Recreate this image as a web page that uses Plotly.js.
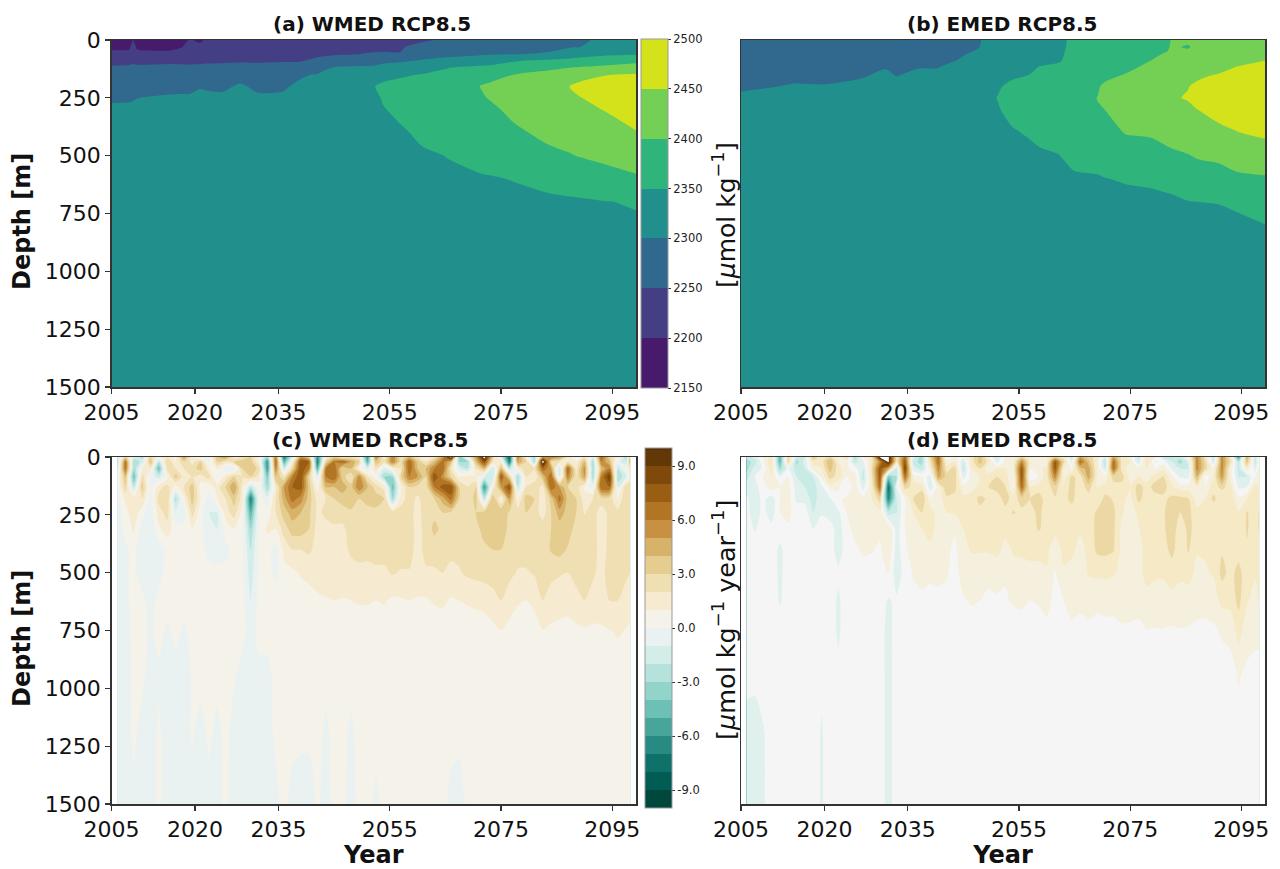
<!DOCTYPE html>
<html><head><meta charset="utf-8">
<script src="https://cdn.plot.ly/plotly-3.0.1.min.js"></script>
<style>html,body{margin:0;padding:0;background:#fff}</style></head>
<body><div id="chart" style="width:1280px;height:869px"></div>
<script>
const W = 1280, H = 869;
const panelTitles = ['(a) WMED RCP8.5','(b) EMED RCP8.5','(c) WMED RCP8.5','(d) EMED RCP8.5'];
const xTicks = [2005,2020,2035,2055,2075,2095];
const yTicks = [0,250,500,750,1000,1250,1500];
const alkTicks = [2150,2200,2250,2300,2350,2400,2450,2500];
const trendTicks = [-9,-6,-3,0,3,6,9];
const trendTickText = ['-9.0','-6.0','-3.0','0.0','3.0','6.0','9.0'];
const viridisBands = ['#481a6c','#443e85','#31688e','#21908c','#2fb47c','#74d055','#d3e21b'];
const brbgReversed = ['#003c30','#01665e','#35978f','#80cdc1','#c7eae5','#f5f5f5','#f6e8c3','#dfc27d','#bf812d','#8c510a','#543005'];

// --- alkalinity panels: columns are depth profiles at depthsAlk
const depthsAlk = [0,30,60,90,120,150,200,250,300,400,500,600,700,800,1500];
const yearsA = [2005,2008.2,2008.85,2009.5,2010.1,2015.5,2017.5,2019,2020.9,2022,2024.9,2028.1,2031.2,2035.8,2038.9,2041.9,2044.8,2050.9,2052.4,2053.8,2056.9,2060.8,2065.3,2071.3,2073.1,2077.2,2083.3,2087.4,2089.2,2094.1,2099.25];
const profilesA = [
[2170,2190,2213,2236,2257,2270,2280,2292,2310,2320,2325,2325,2325,2325,2325],
[2175,2193,2212,2238,2258,2270,2282,2295,2308,2320,2325,2325,2325,2325,2325],
[2201,2222,2235,2243,2258,2270,2282,2297,2308,2320,2325,2325,2325,2325,2325],
[2182,2195,2212,2240,2258,2270,2284,2299,2309,2320,2325,2325,2325,2325,2325],
[2175,2192,2210,2240,2257,2270,2285,2300,2310,2320,2325,2325,2325,2325,2325],
[2170,2190,2210,2243,2258,2272,2288,2305,2312,2320,2325,2325,2325,2325,2325],
[2185,2198,2214,2242,2258,2274,2290,2305,2312,2320,2325,2325,2325,2325,2325],
[2203,2210,2222,2240,2258,2275,2290,2305,2312,2320,2325,2325,2325,2325,2325],
[2194,2208,2225,2243,2258,2278,2297,2310,2314,2320,2325,2325,2325,2325,2325],
[2205,2215,2228,2244,2259,2276,2295,2309,2314,2320,2325,2325,2325,2325,2325],
[2205,2220,2233,2245,2260,2275,2292,2308,2314,2320,2325,2325,2325,2325,2325],
[2210,2225,2236,2246,2262,2285,2305,2315,2320,2325,2325,2325,2325,2325,2325],
[2212,2226,2238,2247,2258,2272,2293,2306,2312,2320,2325,2325,2325,2325,2325],
[2214,2228,2240,2248,2260,2275,2295,2306,2312,2320,2325,2325,2325,2325,2325],
[2216,2230,2240,2248,2265,2295,2308,2315,2320,2325,2328,2328,2328,2328,2328],
[2218,2232,2242,2257,2275,2303,2312,2318,2322,2326,2328,2328,2328,2328,2328],
[2222,2235,2242,2280,2301,2310,2318,2322,2325,2328,2330,2330,2330,2330,2330],
[2225,2240,2252,2285,2305,2315,2322,2325,2328,2332,2335,2335,2335,2335,2335],
[2228,2241,2253,2288,2306,2330,2351,2340,2337,2335,2335,2335,2335,2335,2335],
[2232,2243,2253,2292,2312,2335,2358,2355,2347,2336,2332,2332,2332,2332,2332],
[2235,2245,2252,2295,2320,2345,2362,2370,2362,2343,2335,2332,2332,2332,2332],
[2242,2268,2285,2303,2330,2352,2368,2375,2378,2360,2343,2335,2333,2333,2333],
[2260,2275,2290,2310,2349,2360,2375,2380,2382,2370,2351,2342,2336,2334,2334],
[2265,2280,2294,2325,2360,2375,2401,2395,2388,2375,2360,2347,2340,2337,2335],
[2268,2283,2296,2330,2362,2385,2408,2403,2392,2378,2362,2348,2341,2338,2335],
[2270,2285,2298,2347,2368,2400,2415,2415,2410,2392,2372,2351,2343,2339,2335],
[2280,2290,2303,2358,2392,2412,2425,2430,2425,2410,2390,2362,2342,2339,2335],
[2285,2297,2325,2363,2400,2425,2451,2445,2437,2416,2398,2370,2344,2340,2335],
[2288,2300,2330,2368,2404,2435,2460,2449,2440,2420,2402,2372,2345,2341,2335],
[2318,2325,2342,2377,2413,2449,2468,2465,2453,2432,2410,2385,2349,2343,2335],
[2325,2330,2345,2390,2420,2455,2475,2485,2470,2448,2425,2393,2353,2345,2335]
];
const yearsB = [2005,2014.5,2020.1,2026.9,2031,2032.9,2036.8,2040.1,2042.6,2044.4,2047.1,2048.9,2051.2,2053.7,2056.8,2058.6,2062,2063.1,2065,2069.2,2070.4,2074.2,2078.6,2081.7,2082.5,2085.4,2087.4,2091,2094.2,2099.25];
const profilesB = [
[2262,2265,2268,2272,2278,2283,2292,2310,2318,2325,2330,2330,2330,2330,2330],
[2266,2270,2274,2279,2284,2290,2303,2314,2320,2326,2330,2330,2330,2330,2330],
[2268,2272,2276,2280,2285,2290,2302,2314,2320,2326,2330,2330,2330,2330,2330],
[2270,2275,2279,2284,2290,2296,2310,2318,2322,2326,2330,2330,2330,2330,2330],
[2274,2279,2284,2290,2298,2308,2318,2322,2324,2327,2330,2330,2330,2330,2330],
[2274,2280,2286,2291,2295,2298,2312,2320,2324,2327,2330,2330,2330,2330,2330],
[2276,2282,2288,2294,2299,2307,2318,2322,2325,2328,2330,2330,2330,2330,2330],
[2280,2285,2290,2295,2299,2307,2318,2322,2325,2328,2330,2330,2330,2330,2330],
[2284,2289,2292,2297,2307,2314,2320,2324,2326,2328,2330,2330,2330,2330,2330],
[2288,2293,2297,2302,2310,2316,2322,2325,2326,2328,2330,2330,2330,2330,2330],
[2295,2296,2304,2308,2316,2322,2330,2333,2332,2330,2330,2330,2330,2330,2330],
[2303,2305,2308,2315,2322,2328,2340,2342,2340,2335,2332,2330,2330,2330,2330],
[2308,2310,2315,2322,2330,2337,2347,2351,2348,2340,2335,2332,2330,2330,2330],
[2310,2315,2320,2328,2336,2345,2356,2362,2358,2347,2338,2335,2332,2330,2330],
[2315,2320,2325,2332,2340,2350,2362,2368,2366,2353,2342,2337,2333,2331,2330],
[2318,2325,2332,2342,2352,2360,2368,2372,2372,2358,2345,2338,2334,2332,2330],
[2335,2340,2345,2347,2357,2364,2372,2376,2376,2362,2349,2340,2335,2332,2330],
[2349,2349,2350,2352,2358,2366,2374,2378,2378,2366,2352,2342,2336,2333,2330],
[2353,2354,2356,2360,2365,2372,2380,2383,2384,2372,2360,2345,2337,2334,2330],
[2358,2360,2363,2367,2372,2380,2396,2401,2398,2383,2363,2347,2338,2335,2330],
[2358,2361,2365,2370,2376,2388,2407,2408,2400,2385,2368,2349,2339,2335,2330],
[2365,2370,2375,2382,2390,2402,2420,2425,2418,2402,2378,2353,2340,2335,2330],
[2380,2388,2394,2400,2411,2420,2432,2435,2428,2405,2382,2358,2338,2333,2330],
[2390,2395,2403,2410,2420,2430,2440,2444,2435,2415,2390,2363,2342,2335,2330],
[2404,2406,2410,2415,2424,2434,2444,2447,2440,2418,2392,2364,2343,2336,2330],
[2410,2396,2412,2420,2430,2440,2449,2452,2445,2425,2398,2370,2349,2340,2330],
[2412,2416,2420,2428,2436,2445,2456,2458,2451,2428,2405,2375,2350,2341,2330],
[2412,2417,2425,2433,2441,2452,2463,2465,2462,2442,2410,2380,2351,2342,2330],
[2415,2420,2428,2440,2452,2460,2470,2472,2466,2449,2418,2392,2354,2345,2330],
[2420,2425,2436,2450,2460,2468,2480,2485,2480,2458,2428,2395,2362,2349.5,2330]
];

// --- trend panels
const depthsTrend = [0,20,50,85,130,180,240,310,400,500,620,760,950,1200,1500];
const yearsTrend = [2006,2007.5,2009,2010.5,2012,2013.5,2015,2016.5,2018,2019.5,2021,2022.5,2024,2025.5,2027,2028.5,2030,2031.5,2033,2034.5,2036,2037.5,2039,2040.5,2042,2043.5,2045,2046.5,2048,2049.5,2051,2052.5,2054,2055.5,2057,2058.5,2060,2061.5,2063,2064.5,2066,2067.5,2069,2070.5,2072,2073.5,2075,2076.5,2078,2079.5,2081,2082.5,2084,2085.5,2087,2088.5,2090,2091.5,2093,2094.5,2096,2097.5,2098.2];
const profilesC = [
[-2,-2.5,-1.5,-.5,-.3,-.5,-.5,-.5,-.5,-.5,-.5,-.5,-.4,-.5,-.5],
[3,6.5,6.5,4,3,1.2,.6,.3,-.2,-.2,-.2,-.3,-.4,-.5,-.5],
[-1,-3,-3,-4.5,-2,1.5,1.8,1.2,.3,.3,.3,.2,.2,.2,-.3],
[-2.5,-1.5,1,2.5,3.5,2,.3,-.5,-.7,-.7,.3,.3,.2,-.4,-.5],
[3,4,1.5,-.3,-.4,-.6,-.7,-.8,-.6,-.4,-.4,-.2,-.4,-.5,-.5],
[.5,-2,-4.5,-1.5,1.5,2.5,1.5,.8,-.5,-.3,.3,.3,-.2,.2,.2],
[2,3,2.5,.5,2.5,3,2.5,1.5,.3,.3,.3,-.2,-.5,-.5,-.5],
[.5,1,2,3.5,.5,-2.5,-.8,.4,.3,.3,.3,.3,-.5,-.5,-.5],
[5,3,2,1.5,2,.8,-.5,.3,.3,.3,.3,-.2,-.5,-.5,-.5],
[1,1.5,2.5,2,3.5,3.5,2.5,1,.3,.3,.3,.3,.1,.1,-.5],
[-.5,3,3.5,1.5,.5,1,.3,.3,.3,.3,.3,.3,.3,-.4,-.5],
[-.5,-.5,1,2.5,.3,-.6,-1,-.6,-.3,.3,.3,.3,.3,.2,-.4],
[4,3,1,-.3,1.5,1,-1,-1,-.6,.3,.3,.3,.3,-.3,-.3],
[5,2,-1,1.5,3,2,1.5,.5,-.3,.3,.3,.3,.3,.3,.2],
[1.5,3,-1,3,5,3.5,2.5,1,.3,.3,.3,.3,.1,-.4,-.5],
[2,3.5,3,2,1.5,1.5,.6,.3,.3,.3,.3,.3,-.4,-.5,-.5],
[3,3.5,4,3,-2,-7,-5,-3,-2,-1.5,-1,-.5,-.4,-.3,-.5],
[.5,1,2.5,1.5,.4,.4,.4,.3,.3,.3,.3,.3,-.3,-.4,-.5],
[-3,-6,-6,-4,-3,-.5,.3,1.2,.3,.3,.3,.3,-.3,-.4,-.5],
[6,7,6,4,1.5,2,2,1,-.4,-.2,.3,.3,.3,.2,-.3],
[-7,-5,-1.5,2,5,4.5,3.5,2.5,1.3,.7,.4,.3,.3,.3,.3],
[-1,1,3,6,7,6.5,4.5,3.5,2,.8,.4,.3,.3,.3,-.4],
[5,8,8,8,7.5,5.5,4,3.5,2,1.1,.5,.3,.3,.2,-.5],
[3,7,6,3,3.5,3.5,3.2,3,2.2,1.3,.6,.3,.3,.2,-.5],
[-6,-7,-5,-1,.5,1.6,1.8,1.6,1.6,1.5,.8,.3,.3,.3,.2],
[1,3,6,6,4,2,2.2,1.7,1.6,1.7,.9,.4,.3,-.2,-.4],
[3,6,7,7,4,3,2.5,1.8,1.6,1.6,1,.4,.3,.3,.3],
[1.5,7,3,3.5,4.5,3.5,2.4,1.8,1.6,1.6,.95,.4,.3,.3,.3],
[2,5,4,2,3.5,4,2.7,2.4,2.2,1.6,1,.4,.3,-.2,-.4],
[1.5,3,1,5.5,6,3,2.6,2.6,2.4,1.7,1.1,.4,.3,.3,.3],
[-6,-5,-1,2,4,3.5,2.5,2.5,2.3,1.7,1.1,.4,.3,.3,.3],
[6,4,2,.5,2.5,3.5,2.7,2.5,2.4,1.8,1,.4,.3,.3,-.2],
[1,2,-1,-3,1.5,3,2.7,2.6,2.4,1.8,1.1,.4,.3,.3,.2],
[6,6,1,-3,-4.5,-3,2.5,2.6,2.4,2.1,.8,.4,.3,.3,.3],
[2,2.5,2,3,1,1.5,2.5,2.6,2.5,1.9,.9,.4,.3,.3,.3],
[4,7,7,6,3,2.5,2.5,2.6,2.5,1.9,1,.4,.3,.3,.3],
[2,3.5,4,5,2.5,1.8,1.5,1.5,1.5,1.6,.9,.4,.3,.3,.3],
[.7,2,4,3,2.5,2.5,2.7,2.5,2.4,1.8,.9,.4,.3,.3,.3],
[2,4,6,8,6,3,2.8,3.2,2.6,1.8,1.1,.4,.3,.3,.3],
[5,6.5,7,5.5,7.5,4.5,3,2.8,2.4,2,1.2,.4,.3,.3,.3],
[11,4,2,3,8,6.5,2.8,2.5,2.2,1.8,.9,.4,.3,.3,-.3],
[-4,-3,-1,1,3,3,2.5,2.4,2.3,1.9,1,.4,.3,.2,-.4],
[1,-3,-2,1.5,2,2,2.7,2.4,2.4,2.2,1.1,.5,.3,.3,.3],
[5,4,2,1,3,3.5,3,2.6,2.5,2.3,1.2,.5,.3,.3,.3],
[11,8,4,-1,-6,-2,3.5,3.5,2.7,2.4,1.3,.5,.3,.3,.3],
[3,2,-2,-2,1,4,3.8,3.5,3,2.5,1.6,.7,.3,.3,.3],
[-1,1.5,4,7.5,5,.7,4,3.8,3,2.6,2,.9,.3,.3,.3],
[-8,-7,-2,3,8,5,2.8,2.6,2.4,2.3,1.4,.7,.3,.3,.3],
[6,5,1,-3,-2,.8,2.5,2.5,2.4,1.9,1.1,.5,.3,.3,.3],
[1,3,3,2,2,3.5,3,2.5,2.4,1.9,1,.5,.3,.3,.3],
[-3,-3,2,1,3,3,2.5,2.4,2.4,2.1,1.2,.6,.3,.3,.3],
[5,11,7,4,1.5,1.2,1.5,2.6,2.5,2.4,2,.9,.3,.3,.3],
[6,3,5,7,7,3.5,3,3,3.1,2.3,1.5,.8,.3,.3,.3],
[5,2,-2,-1,5,6.5,4.5,3.5,3.4,2.1,1.4,.7,.3,.3,.3],
[2,2,7,6,3,3.5,3.6,3.4,2.9,2,1.3,.7,.3,.3,.3],
[-.5,1,1.5,2,2.5,3,3,2.7,2.5,2.5,1.5,.8,.3,.3,.3],
[2,4,5.5,5,.8,1.5,1.9,2.5,2.5,2.5,2,.8,.3,.3,.3],
[-1,-3,-3,-3,-.5,2,2.5,2.5,2.5,2.2,1.5,.8,.3,.3,.3],
[7,6,4,6,7,2.5,1.5,1.4,1.5,1.6,1.6,.8,.3,.3,.3],
[3,4,6,9,7,2.5,2.3,2.3,2.3,2.5,2,.9,.3,.3,.3],
[1,-.5,-2,-3,-1,1,2.3,2.3,2.4,2.7,2,1.1,.3,.3,.3],
[-3,-2,.5,-1,3,3,2.5,2.5,2.4,2.2,1.5,.9,.3,.3,.3],
[4,5,2,1,3,2.5,2.5,2.4,2.2,2,1.5,.8,.3,.3,.3]
];
const profilesD = [
[-2,-3,-3,-2,-1,-.3,-.2,0,0,0,0,0,-.3,-.8,-.7],
[-1,-2,-1,-.5,-.8,-1,-1,-.6,0,0,0,0,-.3,-.9,-.9],
[.5,.3,-.3,.6,0,-.2,-.2,0,0,0,0,0,0,-.6,-.6],
[2,2.5,2,1.5,1,-1,-1,-.2,0,0,0,0,0,0,0],
[-5,-5,-3,-.5,.5,.5,.5,0,-.7,-.7,-.6,0,0,0,0],
[3,3,-.5,.5,1,1,.8,.3,0,0,0,0,0,0,0],
[-1.5,-3,-2,-1.5,-1,-.7,0,0,0,0,0,0,0,0,0],
[-1.5,-1,-1.5,-2,-1.5,-.8,0,0,0,0,0,0,0,0,0],
[4,2,1,-1.5,-2,-2,-1.5,-.5,0,0,0,0,0,0,0],
[1.5,2,1.5,.7,-.7,-.8,-.6,0,0,0,0,0,-.3,-.6,-.6],
[3,4.5,4,3,.7,-.6,-1,0,0,0,0,0,0,0,0],
[.7,1.5,2,2,.6,.3,-.7,-1,-1,-.3,-.65,-.65,-.2,0,0],
[3,1,.7,.5,-.3,.7,.5,.2,0,0,0,0,0,0,0],
[-3,-2,0,1,1,1.2,1.2,.8,.3,0,0,0,0,0,0],
[.7,-.6,-1.5,-2,-1,.8,1.3,1.2,.7,0,0,0,0,0,0],
[2,2,2.5,2,1.5,1.5,1.2,.8,.6,0,0,0,0,0,0],
[11,6,8,8,7,3,1.2,.8,.3,0,0,0,0,0,0],
[11,11,5,-4,-8,-7,-2,1.5,1.4,.6,-.6,-.9,-.9,-.9,-.9],
[2,2,-2,-2.5,-.5,-1.5,-1.5,-1,-1,-1.2,-.3,0,0,0,0],
[7,8,9,7,3,.5,.5,.5,.3,0,0,0,0,0,0],
[-1,-2,-1,1,2,2.5,1.5,1,1,.6,.2,0,0,0,0],
[-3,-3,-2,.5,2,3.5,2.5,1.5,1.2,.8,.3,0,0,0,0],
[3,2,1,-1,-1.2,.8,2,1.8,1.3,.7,.2,0,0,0,0],
[7,7,6,5,1,.8,1,1.2,1,.6,.4,0,0,0,0],
[-.5,.8,2,3,3.5,2.2,1.5,1,.7,.6,.2,0,0,0,0],
[.7,1.5,3,3,2.7,2.2,1.6,.6,.3,.1,0,0,0,0,0],
[0,-1.5,-2,-1,1,1.7,1.7,1.5,1.2,1,.4,0,0,0,0],
[2,2,1.5,.8,1.2,2,2,2,1.6,1,.6,0,0,0,0],
[4,4,2.5,1.5,1.7,2.8,2.2,2,1.6,.9,.5,0,0,0,0],
[1,2,.7,2,2.5,2.3,2,2.1,1.6,.8,.3,0,0,0,0],
[-2,-1,1.5,2.5,3,1.7,2,2,1.8,.8,.4,0,0,0,0],
[1,.6,1.5,2,2.6,3,2,1.8,1.2,.6,.4,0,0,0,0],
[1,1,1.5,.5,.3,2,2.6,1.8,1.6,1.2,.6,0,0,0,0],
[3,6,8,8,7,3,2.2,2,1.6,1.3,.7,0,0,0,0],
[1,1.5,.5,0,1.5,2.5,2,2,1.6,1.4,.5,0,0,0,0],
[.7,1.5,1.2,.5,2,3,2.8,2.6,1.7,1.3,.6,0,0,0,0],
[1.5,1,1.8,2,2,2,2,2.2,1.7,1.4,.7,.3,0,0,0],
[3,8,8,6,3,2.4,2.3,1.8,1,.4,.3,0,0,0,0],
[2,3,1.5,1,1.5,2,2,2,1.7,1.4,.5,.2,0,0,0],
[-2,-1,.5,2.8,3,2.9,1.8,1.8,1.7,1.2,.8,.3,0,0,0],
[5,7,4,2,1.7,1.5,1.7,1.6,1.2,1,.7,.2,0,0,0],
[3,4,5,5,3,2,1.8,1.8,1.7,1.6,.8,.3,0,0,0],
[2,1.5,1.5,1.5,1.5,1.6,2.7,2.8,2.7,1.7,.7,.2,0,0,0],
[-1,-2.5,-1.5,.8,2,2.8,2.8,2.8,2.8,1.7,.8,.2,0,0,0],
[5,7,7,3,2,2.4,2.7,2.7,2.6,1.6,.8,.2,0,0,0],
[2,2,2,3,2,1.8,1.6,1.2,1.2,1.2,1,.3,0,0,0],
[1,1.5,1,1,1.5,1.2,1,1,1,1,.9,.3,0,0,0],
[-2,-1.5,1,1.5,3,2.8,1.7,1.4,1.3,1.3,.9,.2,0,0,0],
[2.5,2.5,1.5,1,2,2,2.2,2.1,1.7,1.7,1.3,.4,0,0,0],
[1.5,-.7,.5,2,3,2,2.2,2.4,2.2,1.7,1,.4,0,0,0],
[-2,0,1.2,2.6,3,2.2,2.4,2.3,2.1,1.6,1.2,.4,0,0,0],
[-1.5,-1.5,-.6,.8,1.7,2.8,3,3.2,2.8,2,1.2,.3,0,0,0],
[-2,-3,-1.5,-.6,1,2.8,2.5,1.8,1.9,1.7,1.1,.4,0,0,0],
[.7,-1,-1.5,-.8,1,2.5,2.8,2.8,2.6,1.9,.9,.4,0,0,0],
[6,6,6,4.5,1.5,1,1.8,2,1.6,1.2,.8,.3,0,0,0],
[2,3,3,-.3,.8,1.5,1.7,1.6,1.6,1.4,.9,.2,0,0,0],
[-2,-1.5,.7,1.5,2,2.8,1.6,1.6,1.7,1.6,1,.3,0,0,0],
[6,6,6,5.5,2.8,1.6,1.7,1.8,2.4,2.8,1.8,.6,0,0,0],
[2,2.5,1.2,1,2,2.3,1.7,1.7,1.8,2.2,1.8,.8,0,0,0],
[-6,-2.5,-2,-1.5,-.7,.7,1.6,1.7,2.1,2.8,2.8,1.8,.6,.1,0],
[5,4,1.5,-1.5,-.5,1.5,2.6,2.6,2.4,2,1.6,1,.2,0,0],
[-2,-2,-1,.5,2,1.7,1.8,2,1.7,1.6,1.2,.7,.2,0,0],
[.7,.8,1,1.2,1.5,1.7,2.6,2.6,1.9,1.7,1.6,.8,0,0,0]
];
// range swatch that only feeds the native colour bar; it lies beyond the x-axis range
const barSwatchX = [2200,2201];
const barSwatchY = [0,1500];
const barSwatchZ = [[-10,10],[-10,10]];

function stepScale(cols){
  const out=[]; const n=cols.length;
  cols.forEach((c,i)=>{ out.push([i/n,c]); out.push([(i+1)/n,c]); });
  return out;
}
// lowest (unused) band takes the panel's pale background so no dark sliver shows at the data edge;
// the top band (beyond the colour bar's range) stays white, as in the reference
function brbgPanelScale(bandCount,pale){
  const frac=bandCount/(bandCount+1), last=brbgReversed.length-1, p=frac/bandCount;
  const out=[[0,pale],[p,pale],[p,'#005147']];
  for(let i=1;i<=last;i++) out.push([i===last?frac:frac*i/last,brbgReversed[i]]);
  out.push([frac,'#ffffff']); out.push([1,'#ffffff']);
  return out;
}
const smoothScale = brbgReversed.map((c,i)=>[i/(brbgReversed.length-1),c]);
const FONT = 'DejaVu Sans, sans-serif';

function alkTrace(x,z,xa,ya,bar){
  const t={type:'contour',x:x,y:depthsAlk,z:z,transpose:true,xaxis:xa,yaxis:ya,
    autocontour:false,contours:{coloring:'fill',start:2150,end:2500,size:50,showlines:false},
    line:{width:0,smoothing:0.8},colorscale:stepScale(viridisBands),zmin:2150,zmax:2500,
    hoverinfo:'skip',showscale:!!bar};
  if(bar) t.colorbar={x:641/W,xanchor:'left',xpad:0,ypad:0,y:1-213.5/H,yanchor:'middle',
    thickness:27,thicknessmode:'pixels',len:349/H,lenmode:'fraction',
    outlinecolor:'#999',outlinewidth:1,ticks:'outside',ticklen:3,tickcolor:'#333',tickwidth:1,
    tickvals:alkTicks,tickfont:{family:FONT,size:11.5,color:'#222'}};
  return t;
}
function barTrace(xa,ya){
  return {type:'contour',x:barSwatchX,y:barSwatchY,z:barSwatchZ,transpose:true,xaxis:xa,yaxis:ya,
    autocontour:false,contours:{coloring:'fill',start:-10,end:10,size:1,showlines:false},
    line:{width:0},colorscale:smoothScale,zmin:-10,zmax:10,hoverinfo:'skip',showscale:true,
    colorbar:{x:645/W,xanchor:'left',xpad:0,ypad:0,y:1-628/H,yanchor:'middle',
    thickness:27,thicknessmode:'pixels',len:360/H,lenmode:'fraction',
    outlinecolor:'#999',outlinewidth:1,ticks:'outside',ticklen:3,tickcolor:'#333',tickwidth:1,
    tickvals:trendTicks,ticktext:trendTickText,tickfont:{family:FONT,size:11.5,color:'#222'}}};
}
function trendTrace(z,xa,ya,start,bandCount,pale){
  return {type:'contour',x:yearsTrend,y:depthsTrend,z:z,transpose:true,xaxis:xa,yaxis:ya,
    autocontour:false,contours:{coloring:'fill',start:start,end:start+bandCount+1,size:1,showlines:false},
    line:{width:0,smoothing:0.7},colorscale:brbgPanelScale(bandCount,pale),
    zmin:start,zmax:start+bandCount+1,hoverinfo:'skip',showscale:false};
}
const data=[
  alkTrace(yearsA,profilesA,'x','y',true),
  alkTrace(yearsB,profilesB,'x2','y2',false),
  barTrace('x3','y3'),
  trendTrace(profilesC,'x3','y3',-10,20,'#f5f2e8'),
  trendTrace(profilesD,'x4','y4',-10.5,21,'#f5f5f5')
];
function xAxis(l,r,anchor,title){
  const a={domain:[l/W,r/W],range:[2005,2099.25],anchor:anchor,tickmode:'array',tickvals:xTicks,
    ticks:'outside',ticklen:5,tickwidth:1.3,tickcolor:'#333',showline:true,mirror:true,linecolor:'#333',linewidth:1.5,
    showgrid:false,zeroline:false,tickfont:{family:FONT,size:22,color:'#111'}};
  if(title) a.title={text:'<b>Year</b>',font:{family:FONT,size:24,color:'#111'},standoff:6};
  return a;
}
function yAxis(t,b,anchor,labels){
  return {domain:[1-b/H,1-t/H],range:[1500,0],anchor:anchor,tickmode:'array',tickvals:yTicks,
    showticklabels:labels,ticks:labels?'outside':'',ticklen:5,tickwidth:1.3,tickcolor:'#333',
    showline:true,mirror:true,linecolor:'#333',linewidth:1.5,showgrid:false,zeroline:false,
    tickfont:{family:FONT,size:22,color:'#111'}};
}
const L1=111.6,R1=636,L2=741,R2=1265,T1=40,B1=387,T2=457,B2=804;
function ann(text,x,y,size,angle){
  return {text:text,xref:'paper',yref:'paper',x:x/W,y:1-y/H,xanchor:'center',yanchor:'middle',
    showarrow:false,textangle:angle||0,font:{family:FONT,size:size,color:'#111'}};
}
const layout={width:W,height:H,margin:{l:0,r:0,t:0,b:0},paper_bgcolor:'#fff',plot_bgcolor:'#fff',showlegend:false,
  xaxis:xAxis(L1,R1,'y',false),yaxis:yAxis(T1,B1,'x',true),
  xaxis2:xAxis(L2,R2,'y2',false),yaxis2:yAxis(T1,B1,'x2',false),
  xaxis3:xAxis(L1,R1,'y3',true),yaxis3:yAxis(T2,B2,'x3',true),
  xaxis4:xAxis(L2,R2,'y4',true),yaxis4:yAxis(T2,B2,'x4',false),
  annotations:[
    ann('<b>'+panelTitles[0]+'</b>',372,24,20),
    ann('<b>'+panelTitles[1]+'</b>',1002,24,20),
    ann('<b>'+panelTitles[2]+'</b>',370,440,20),
    ann('<b>'+panelTitles[3]+'</b>',1002,440,20),
    ann('<b>Depth [m]</b>',22,222,24,-90),
    ann('<b>Depth [m]</b>',22,639,24,-90),
    ann('[<i>μ</i>mol kg<sup>−1</sup>]',724,215,25,-90),
    ann('[<i>μ</i>mol kg<sup>−1</sup> year<sup>−1</sup>]',724,620,25.5,-90)
  ]};
Plotly.newPlot('chart',data,layout,{displayModeBar:false,staticPlot:true});
</script></body></html>
